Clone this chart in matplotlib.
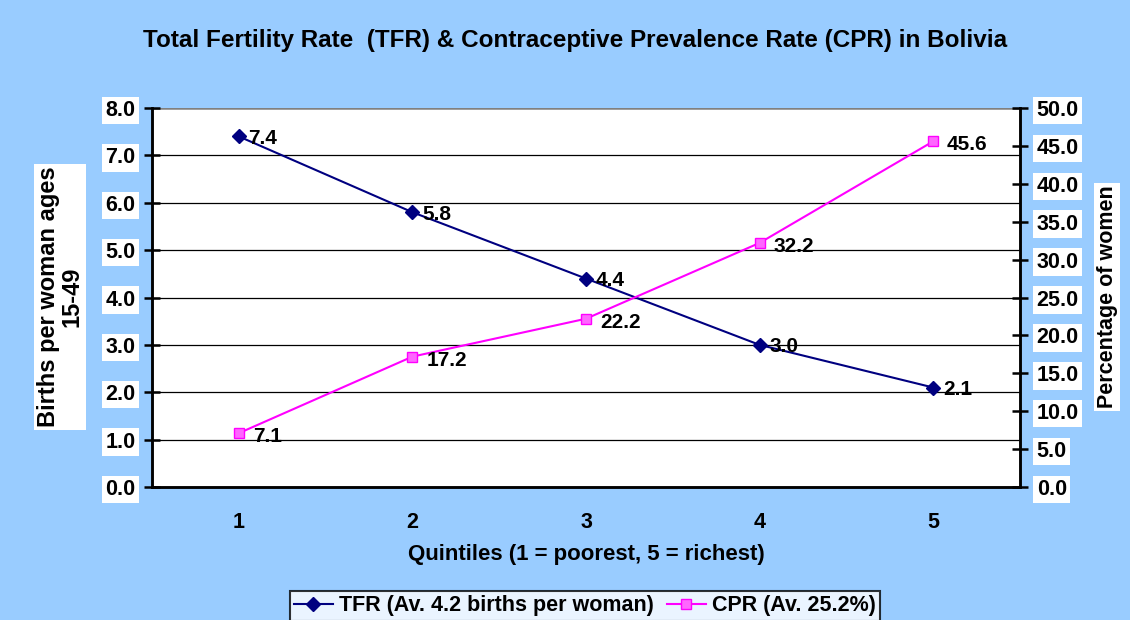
import matplotlib.pyplot as plt
import numpy as np

plt.rcParams['font.family'] = ['Liberation Sans', 'DejaVu Sans']
plt.rcParams['font.weight'] = 'bold'

quintiles = [1, 2, 3, 4, 5]
tfr = [7.4, 5.8, 4.4, 3.0, 2.1]
cpr = [7.1, 17.2, 22.2, 32.2, 45.6]
tfr_ticks = [0, 1, 2, 3, 4, 5, 6, 7, 8]
cpr_ticks = [0, 5, 10, 15, 20, 25, 30, 35, 40, 45, 50]

bg = '#99ccff'
fig = plt.figure(figsize=(11.3, 6.2), dpi=100, facecolor=bg)
ax = fig.add_axes([152/1130, 1-487/620, 868/1130, 379/620])
ax2 = ax.twinx()

ax.set_xlim(0.5, 5.5)
ax.set_ylim(0, 8)
ax2.set_ylim(0, 50)

# gridlines at left ticks
for t in tfr_ticks[1:-1]:
    ax.axhline(t, color='black', lw=0.9, zorder=1)
ax.axhline(8, color='#808080', lw=1.8, zorder=1)

l1, = ax.plot(quintiles, tfr, color='#000080', marker='D', ms=7.5, lw=1.5,
              zorder=3, label='TFR (Av. 4.2 births per woman)')
l2, = ax2.plot(quintiles, cpr, color='#ff00ff', marker='s', ms=7, lw=1.5,
               mfc='#ff66ff', mec='#ff00ff', zorder=3, label='CPR (Av. 25.2%)')

for x, v in zip(quintiles, tfr):
    ax.annotate(f'{v:.1f}', (x, v), xytext=(7, -1.5), textcoords='offset points',
                va='center', ha='left', fontsize=15, fontweight='bold', zorder=4)
for x, v in zip(quintiles, cpr):
    ax2.annotate(f'{v:.1f}', (x, v), xytext=(10, -2.5), textcoords='offset points',
                 va='center', ha='left', fontsize=15, fontweight='bold', zorder=4)

ax.set_xticks(quintiles)
ax.set_yticks(tfr_ticks)
ax.set_yticklabels([f'{t:.1f}' for t in tfr_ticks])
ax2.set_yticks(cpr_ticks)
ax2.set_yticklabels([f'{t:.1f}' for t in cpr_ticks])

box = dict(facecolor='white', edgecolor='none', pad=1.5)
for lab in ax.get_yticklabels() + ax2.get_yticklabels():
    lab.set_bbox(box)
    lab.set_fontsize(15.5)
    lab.set_fontweight('bold')
for lab in ax.get_xticklabels():
    lab.set_fontsize(15.5)
    lab.set_fontweight('bold')

ax.tick_params(axis='y', direction='inout', length=12, width=1.8, pad=6)
ax2.tick_params(axis='y', direction='inout', length=12, width=1.8, pad=6)
ax.tick_params(axis='x', length=0, pad=18)

for a in (ax, ax2):
    a.spines['top'].set_visible(False)
    a.spines['left'].set_linewidth(1.8)
    a.spines['right'].set_linewidth(1.8)
    a.spines['bottom'].set_linewidth(1.8)
ax.set_zorder(ax2.get_zorder() - 1)
ax2.patch.set_visible(False)
ax.patch.set_facecolor('white')

ax.set_xlabel('Quintiles (1 = poorest, 5 = richest)', fontsize=16,
              fontweight='bold', labelpad=8)
fig.text(60/1130, 1-297/620, 'Births per woman ages\n15-49', rotation=90,
         ha='center', va='center', fontsize=17, fontweight='bold',
         linespacing=1.0,
         bbox=dict(facecolor='white', edgecolor='none', pad=2))
fig.text(1107/1130, 1-297/620, 'Percentage of women', rotation=90,
         ha='center', va='center', fontsize=15.5, fontweight='bold',
         bbox=dict(facecolor='white', edgecolor='none', pad=1.5))

fig.text(575/1130, 1-40/620,
         'Total Fertility Rate  (TFR) & Contraceptive Prevalence Rate (CPR) in Bolivia',
         ha='center', va='center', fontsize=17.5, fontweight='bold')

leg = fig.legend(handles=[l1, l2], loc='center', bbox_to_anchor=(585/1130, 1-606/620),
                 ncol=2, fontsize=15.5, frameon=True, fancybox=False,
                 edgecolor='black', handlelength=1.8, columnspacing=0.6,
                 handletextpad=0.3, borderpad=0.2, borderaxespad=0)
leg.get_frame().set_linewidth(1.5)

fig.savefig('out.png', dpi=100, facecolor=bg)
